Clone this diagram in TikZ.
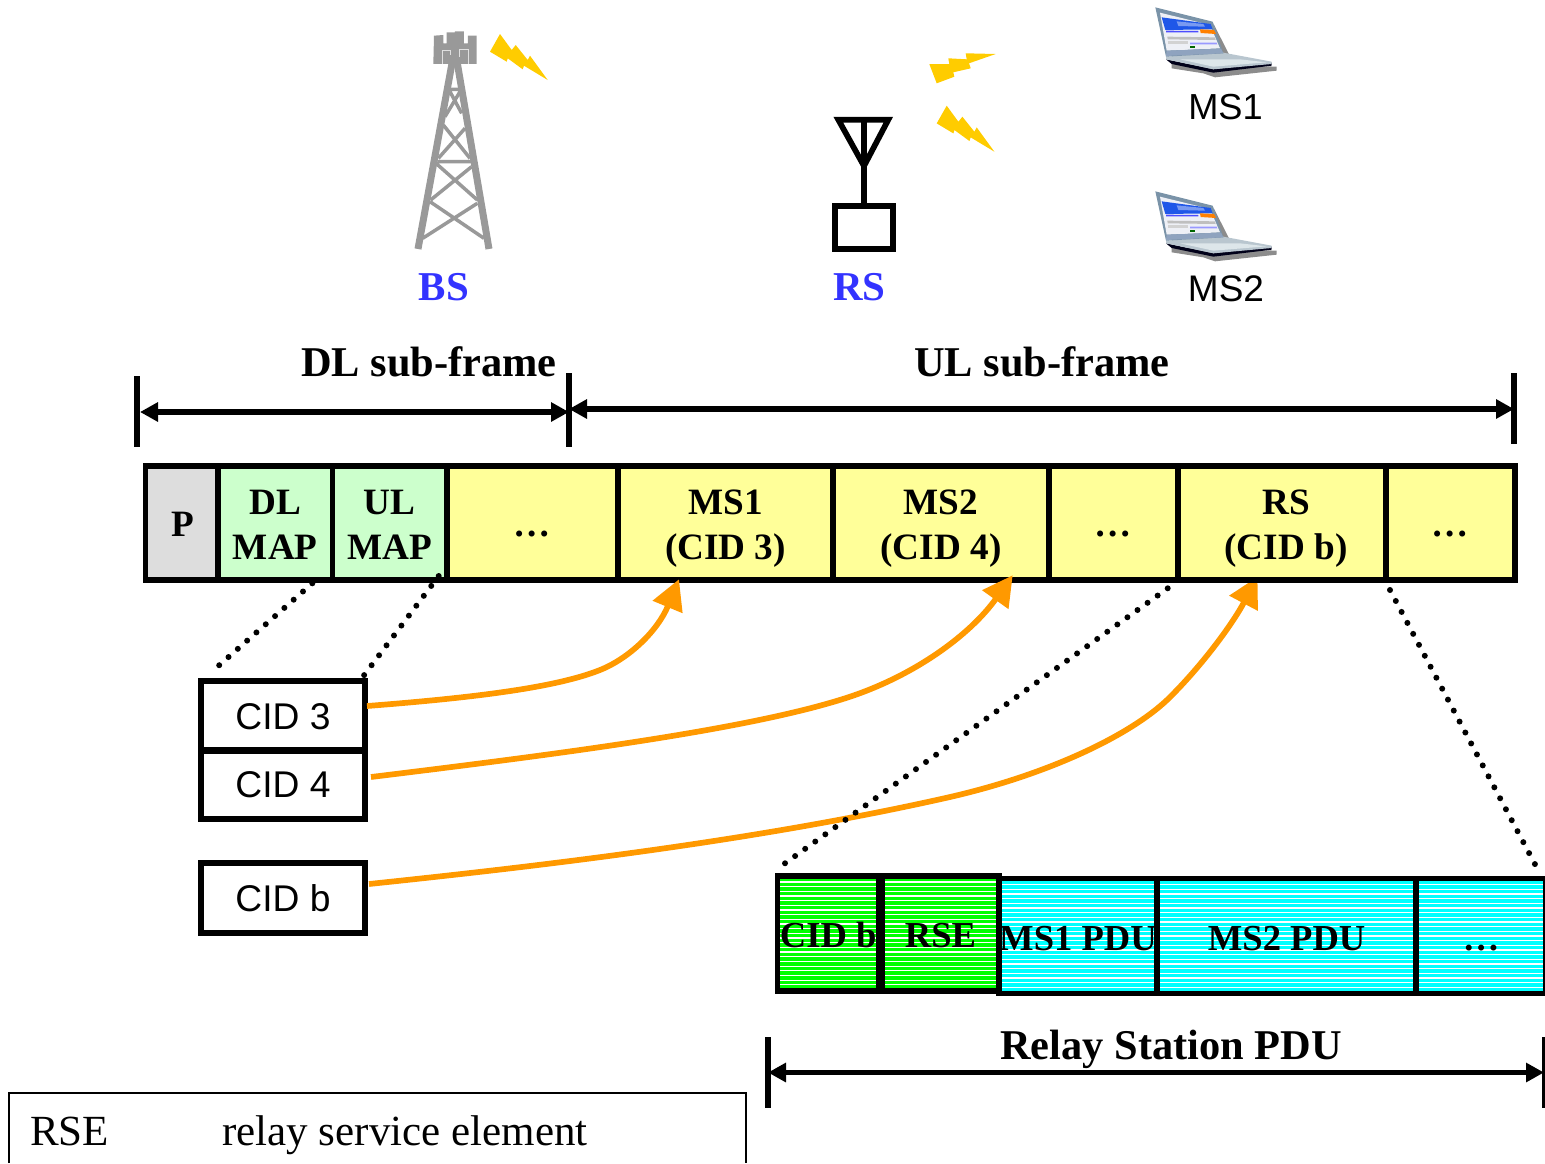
\documentclass[tikz,border=0pt]{standalone}
\usepackage{fontspec}
\setmainfont{Liberation Serif}
\newfontfamily\arialf{Liberation Sans}
\usetikzlibrary{arrows.meta,calc}
\pgfdeclarelayer{underframe}
\pgfsetlayers{underframe,main}
\definecolor{towergray}{HTML}{999999}
\definecolor{boltyellow}{HTML}{FFCC00}
\definecolor{labelblue}{HTML}{3333FF}
\definecolor{cellyellow}{HTML}{FFFF99}
\definecolor{cellmint}{HTML}{CCFFCC}
\definecolor{cellgray}{HTML}{DDDDDD}
\definecolor{arroworange}{HTML}{FF9900}
\definecolor{pgreen}{HTML}{00FF00}
\definecolor{pcyan}{HTML}{00FFFF}
\definecolor{lapshadow}{HTML}{8C8C8C}
\definecolor{lapbase}{HTML}{B9C6CF}
\definecolor{lapkeys}{HTML}{DDE6EA}
\definecolor{lapbezel}{HTML}{7A93A8}
\definecolor{lapscreen}{HTML}{EEF0F6}
\definecolor{lapblue}{HTML}{1F57E8}
\definecolor{lapfoot}{HTML}{8FA3BF}
\newcommand{\tfont}[1]{\fontsize{#1pt}{#1pt}\selectfont}
\tikzset{
  x=1pt,y=-1pt,
  cell/.style={draw=black,line width=5.7pt,inner sep=0pt,outer sep=0pt,align=center,
    font=\bfseries\tfont{37.2}},
  cidbox/.style={draw=black,fill=white,line width=5.7pt,inner sep=0pt,outer sep=0pt,
    minimum width=164pt,font=\arialf\tfont{37.2}},
  hatchgreen/.style={cell,fill=pgreen,font=\bfseries\tfont{36.6},path picture={
    \foreach \k in {-14,...,14}
      \draw[white,line width=1.1pt] ([yshift=\k*4.67pt]path picture bounding box.west) -- ([yshift=\k*4.67pt]path picture bounding box.east);}},
  hatchcyan/.style={hatchgreen,fill=pcyan},
  heading/.style={font=\bfseries\tfont{42.4},inner sep=0pt},
  msname/.style={font=\arialf\tfont{37},inner sep=0pt},
  stationname/.style={font=\bfseries\tfont{41},text=labelblue,inner sep=0pt},
  dimline/.style={line width=5.5pt,{Stealth[length=18pt,width=18.5pt,inset=0pt]}-{Stealth[length=18pt,width=18.5pt,inset=0pt]}},
  tick/.style={line width=5.7pt},
  dots/.style={line width=6pt,line cap=round,dash pattern=on 0pt off 12.4pt},
  cidarrow/.style={line width=5.7pt,arroworange,-{Stealth[length=30pt,width=31pt,inset=0pt]}},
  bolt/.style={fill=boltyellow,draw=none},
  towerleg/.style={line width=7pt,towergray},
  towerbrace/.style={line width=3.5pt,towergray},
}
\newcommand{\boltshape}{(500,34) -- (511.7,50) -- (515.7,45) -- (527.7,60) -- (530,55.7) -- (547.7,80) -- (524,65.7) -- (522.7,69.3) -- (507.7,58.3) -- (506.7,61.7) -- (490,51.7) -- cycle}
\newcommand{\laptopart}{%
  \fill[lapshadow] (95,190) -- (410,200) -- (410,212) -- (225,232) -- (190,220) -- (95,205) -- cycle;
  \fill[lapshadow] (220,70) -- (268,165) -- (245,172) -- cycle;
  \fill[black!90!blue] (78,178) -- (220,208) -- (395,188) -- (395,197) -- (220,218) -- (95,192) -- cycle;
  \fill[lapbase] (78,170) -- (250,158) -- (395,185) -- (395,192) -- (220,208) -- (78,178) -- cycle;
  \fill[lapkeys] (120,178) -- (300,178) -- (380,187) -- (220,200) -- cycle;
  \fill[lapbezel] (46,22) -- (218,65) -- (250,160) -- (78,170) -- cycle;
  \fill[lapscreen] (60,38) -- (210,75) -- (240,145) -- (80,152) -- cycle;
  \fill[lapblue] (65,52) -- (212,72) -- (218,88) -- (76,90) -- cycle;
  \fill[lapblue!60] (110,64) -- (190,72) -- (195,80) -- (115,78) -- cycle;
  \fill[orange] (180,88) -- (222,90) -- (228,102) -- (182,99) -- cycle;
  \fill[blue!70] (78,92) -- (175,93) -- (175,97) -- (78,97) -- cycle;
  \fill[gray!50] (82,110) -- (225,112) -- (227,120) -- (83,118) -- cycle;
  \fill[gray!35] (85,124) -- (145,124) -- (145,132) -- (85,132) -- cycle;
  \fill[blue!40] (150,128) -- (230,128) -- (232,133) -- (150,133) -- cycle;
  \fill[black!60!green] (150,137) -- (165,137) -- (165,144) -- (150,144) -- cycle;
  \fill[lapfoot] (80,152) -- (243,146) -- (250,160) -- (78,168) -- cycle;
}
\newcommand{\twolines}[2]{\makebox[0pt][c]{\raisebox{9pt}[0pt][0pt]{#1}}\makebox[0pt][c]{\raisebox{-36pt}[0pt][0pt]{#2}}}
\newcommand{\framecell}[5]{\node[cell,fill=#4,minimum width=#3pt-#2pt,minimum height=114.5pt] (#1) at ({(#2+#3)/2},523) {#5};}
\newcommand{\pducell}[7]{\node[#4,minimum width=#3pt-#2pt,minimum height=#5pt] (#1) at ({(#2+#3)/2},#6) {\makebox[0pt][c]{\raisebox{-14pt}[0pt][0pt]{#7}}};}
\newcommand{\elips}{\makebox[0pt][c]{\raisebox{-13pt}[0pt][0pt]{…}}}
\begin{document}
\begin{tikzpicture}
\useasboundingbox (0,0) rectangle (1545,1163);
% tower
\begin{scope}[shift={(400,0)},x=.3333pt,y=-.3333pt]
\draw[towerleg] (54,747) -- (156,190);
\draw[towerleg] (267,747) -- (172,190);
\fill[towergray] (102,107) -- (130,105) -- (130,130) -- (140,130) -- (140,97) -- (165,97) -- (165,94) -- (192,94) -- (192,130) -- (204,130) -- (204,107) -- (230,107) -- (230,192) -- (100,192) -- cycle;
\draw[white!70!towergray,line width=.7pt] (130,150) -- (152,150) -- (152,165) (178,148) -- (205,148) (178,148) -- (178,172) (205,148) -- (205,192) (128,150) -- (128,192);
\draw[towerbrace] (150,268) -- (180,268) (150,275) -- (185,340) (180,275) -- (135,350)
  (130,375) -- (210,475) (195,385) -- (115,475) (112,485) -- (215,485)
  (108,490) -- (232,600) (215,500) -- (92,600) (90,605) -- (252,715) (232,610) -- (68,715);
\end{scope}
% bolts
\fill[bolt] \boltshape;
\begin{scope}[shift={(446.7,71.7)}]\fill[bolt] \boltshape;\end{scope}
\fill[bolt] (995.7,54) -- (965.7,53.3) -- (966.7,59.3) -- (948.3,58.3) -- (949.3,64) -- (929.3,64) -- (936.7,83.3) -- (954.3,76.7) -- (953.3,72.3) -- (970.7,68.3) -- (969,63.3) -- cycle;
% relay station
\node[draw=black,line width=5.7pt,minimum width=58.5pt,minimum height=43.5pt,inner sep=0pt,outer sep=0pt] (rsbox) at (864,227.5) {};
\coordinate (apex) at (864,166);
\coordinate (antL) at (838.3,119.7);
\coordinate (antR) at (888.3,119.7);
\draw[line width=5.7pt,miter limit=10] (antL) -- (antR) -- (apex) -- cycle;
\draw[line width=5.7pt] (864,119.7) -- (rsbox.north);
% laptops
\begin{scope}[shift={(1140,0)},x=.3333pt,y=-.3333pt]\laptopart\end{scope}
\begin{scope}[shift={(1140,184)},x=.3333pt,y=-.3333pt]\laptopart\end{scope}
% names
\node[stationname] (bs) at (444,287) {BS};
\node[stationname] (rs) at (859.5,287) {RS};
\node[msname,font=\arialf\tfont{36.2}] (ms1) at (1225.5,107) {MS1};
\node[msname] (ms2) at (1226,289) {MS2};
% sub-frame dimension
\node[heading] (dlt) at (429,362) {DL sub-frame};
\node[heading] (ult) at (1042,362) {UL sub-frame};
\coordinate (ta1) at (137,376); \coordinate (ta2) at (137,447);
\coordinate (tb1) at (569,373); \coordinate (tb2) at (569,447);
\coordinate (tc1) at (1514,373); \coordinate (tc2) at (1514,444);
\draw[tick] (ta1) -- (ta2);
\draw[tick] (tb1) -- (tb2);
\draw[tick] (tc1) -- (tc2);
\draw[dimline] (140,412) -- (569,412);
\draw[dimline] (569,409) -- (1514,409);
% frame
\framecell{p}{145.5}{218}{cellgray}{\hspace*{2pt}\raisebox{-13.7pt}[0pt][0pt]{P}}
\framecell{dlmap}{218}{332.5}{cellmint}{\twolines{DL}{MAP}}
\framecell{ulmap}{332.5}{447}{cellmint}{\twolines{UL}{MAP}}
\framecell{d1}{447}{618}{cellyellow}{\elips}
\framecell{ms1c}{618}{833}{cellyellow}{\twolines{MS1}{(CID 3)}}
\framecell{ms2c}{833}{1049}{cellyellow}{\twolines{MS2}{(CID 4)}}
\framecell{d2}{1049}{1178}{cellyellow}{\elips}
\framecell{rsc}{1178}{1386}{cellyellow}{\hspace*{8pt}\twolines{RS}{(CID b)}}
\framecell{d3}{1386}{1515}{cellyellow}{\elips}
% CID boxes
\node[cidbox,minimum height=68.5pt] (cid3) at (283,715.25) {\raisebox{-14pt}[0pt][0pt]{CID 3}};
\node[cidbox,minimum height=67.5pt] (cid4) at (283,785.25) {\raisebox{-12pt}[0pt][0pt]{CID 4}};
\node[cidbox,minimum height=70pt] (cidb) at (283,898) {\raisebox{-13.7pt}[0pt][0pt]{CID b}};
% PDU
\pducell{pm1}{999}{1157}{hatchcyan}{115}{936}{MS1 PDU}
\pducell{pm2}{1157}{1416.3}{hatchcyan}{115}{936}{MS2 PDU}
\pducell{pd}{1416.3}{1546}{hatchcyan}{115}{936}{…}
\pducell{pc}{777.5}{879}{hatchgreen}{114.7}{933.35}{CID b}
\pducell{pr}{882}{999}{hatchgreen}{114.7}{933.35}{RSE}
% dotted
\coordinate (dA) at (312.3,583.3); \coordinate (dB) at (210,673.3);
\coordinate (dC) at (438.7,576); \coordinate (dD) at (364,675.3);
\coordinate (dE) at (1167.7,588.3); \coordinate (dF) at (784,864);
\coordinate (dG) at (1390,590); \coordinate (dH) at (1536.3,866.7);
\draw[dots] (dA) -- (dB);
\draw[dots] (dC) -- (dD);
\draw[dots] (dE) -- (dF);
\draw[dots] (dG) -- (dH);
% arrows
\draw[cidarrow] ([xshift=2pt,yshift=9.25pt]cid3.east) .. controls (470,698) and (555,688) .. (600,670) .. controls (630,658) and (658,630) .. ([xshift=-46.5pt,yshift=1pt]ms1c.south);
\draw[cidarrow] ([xshift=6pt,yshift=8.25pt]cid4.east) .. controls (550,755) and (750,730) .. (850,696.7) .. controls (915,675) and (970,635) .. ([xshift=71.7pt,yshift=5pt]ms2c.south);
\begin{pgfonlayer}{underframe}
\draw[cidarrow] ([xshift=4pt,yshift=14pt]cidb.east) .. controls (550,865) and (760,840) .. (950,797) .. controls (1050,774) and (1130,735) .. (1167,700) .. controls (1200,668) and (1232,625) .. ([xshift=-24.5pt,yshift=3.5pt]rsc.south);
\end{pgfonlayer}
% relay PDU dimension
\node[heading] (rpt) at (1171,1049) {Relay Station PDU};
\coordinate (te1) at (768,1037); \coordinate (te2) at (768,1108);
\coordinate (tf1) at (1545,1037); \coordinate (tf2) at (1545,1108);
\draw[tick] (te1) -- (te2);
\draw[tick] (tf1) -- (tf2);
\draw[dimline] (768,1072.5) -- (1544,1072.5);
% legend
\draw[line width=2pt] (9,1163) -- (9,1093) -- (746,1093) -- (746,1163);
\node[anchor=base west,inner sep=0pt,font=\tfont{43}] (l1) at (30,1145) {RSE};
\node[anchor=base west,inner sep=0pt,font=\tfont{43}] (l2) at (222,1145) {relay service element};
\end{tikzpicture}
\end{document}
